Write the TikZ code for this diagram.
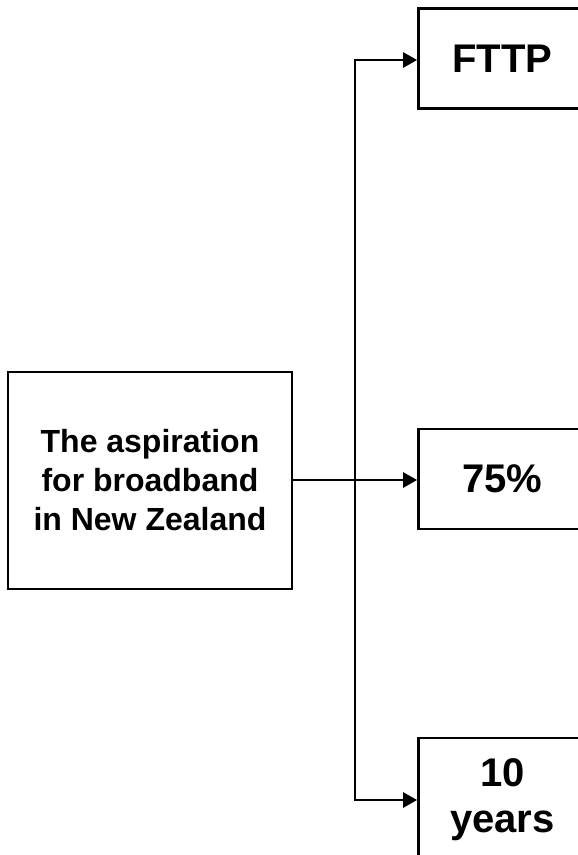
\documentclass[tikz,border=0pt]{standalone}
\usepackage{fontspec}
\setmainfont{Liberation Sans}
\usepackage{tikz}
\usetikzlibrary{arrows.meta,positioning,calc}

\begin{document}
\begin{tikzpicture}[x=1pt,y=-1pt]
	\tikzstyle{source}=[rectangle, draw=black, line width=2.8pt, minimum width=284pt, minimum height=217pt, align=center, font=\fontsize{32}{39}\selectfont\bfseries]
	\tikzstyle{target}=[rectangle, draw=black, line width=2.8pt, minimum width=168pt, minimum height=100pt, align=center, font=\fontsize{40}{46}\selectfont\bfseries]
	\tikzstyle{link}=[draw=black, line width=2.8pt, -{Triangle[length=14pt,width=15pt]}]
	\useasboundingbox (0,0) rectangle (578,855);

	% Draw the source box and the three targets
	\node[source] (aspiration) at (150,480.5) {The aspiration\\for broadband\\in New Zealand};
	\node[target] (fttp) at (502.5,58.5) {FTTP};
	\node[target] (share) at (502.5,479) {75\%};
	\node[target, minimum height=124pt] (years) at (502.5,800) {10\\years};
	\coordinate (branch) at (355,480);

	% Connect the source with every target
	\draw[link, -] (aspiration.east |- branch) -- (branch);
	\draw[link] (branch) |- (fttp.west |- 0,60);
	\draw[link] (branch) -- (share.west |- branch);
	\draw[link] (branch) |- (years.west);
\end{tikzpicture}
\end{document}
